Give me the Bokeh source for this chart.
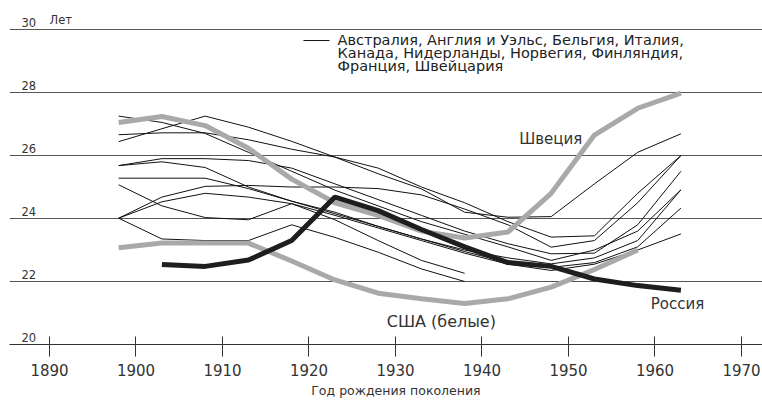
from bokeh.plotting import figure
from bokeh.models import FixedTicker, Range1d
from bokeh.core.properties import value
from bokeh.embed import file_html
from bokeh.resources import INLINE

# ---------------- data ----------------
years = [1898, 1903, 1908, 1913, 1918, 1923, 1928, 1933, 1938, 1943, 1948, 1953, 1958, 1963]

sweden = [27.05, 27.24, 26.95, 26.23, 25.25, 24.5, 24.1, 23.6, 23.38, 23.57, 24.8, 26.65, 27.5, 27.98]
russia_years = years[1:]
russia = [22.54, 22.48, 22.68, 23.3, 24.68, 24.25, 23.65, 23.1, 22.6, 22.48, 22.08, 21.87, 21.72]
usa_years = years[:-1]
usa = [23.07, 23.22, 23.22, 23.22, 22.65, 22.05, 21.63, 21.45, 21.3, 21.45, 21.82, 22.38, 23.0]

# other countries (thin lines)
country_a = [27.25, 27.05, 26.7, 26.1, 25.5, 24.9, 24.4, 23.9, 23.5, 23.1, 22.67, 23.0, 23.6, 24.91]
country_b = [26.44, 26.85, 27.25, 26.9, 26.45, 25.95, 25.42, 24.94, 24.2, 24.04, 24.06, 25.1, 26.1, 26.69]
country_c = [26.66, 26.72, 26.72, 26.5, 26.2, 25.95, 25.6, 25.0, 24.5, 23.9, 23.41, 23.45, 24.8, 26.0]
country_d = [25.68, 25.9, 25.9, 25.84, 25.6, 25.1, 24.6, 24.1, 23.6, 23.2, 22.88, 22.9, 23.8, 25.5]
country_e = [25.68, 25.8, 25.62, 25.0, 24.55, 24.15, 23.75, 23.35, 23.0, 22.75, 22.56, 22.75, 23.3, 24.91]
country_f = [25.28, 25.28, 25.28, 24.95, 24.55, 24.2, 23.75, 23.35, 22.95, 22.6, 22.45, 22.6, 23.1, 24.33]
country_g = [25.07, 24.4, 24.03, 23.96, 24.47, 24.1, 23.7, 23.3, 22.9, 22.55, 22.35, 22.55, 23.0, 23.51]
country_h = [24.01, 24.68, 25.02, 25.05, 25.0, 25.0, 24.95, 24.75, 24.3, 23.8, 23.09, 23.3, 24.5, 26.0]
short_years = years[:9]
country_i = [24.01, 24.53, 24.8, 24.68, 24.47, 23.96, 23.3, 22.67, 22.26]
country_j = [24.01, 23.35, 23.3, 23.3, 23.8, 23.4, 22.93, 22.4, 22.0]

x_ticks = [1890, 1900, 1910, 1920, 1930, 1940, 1950, 1960, 1970]
y_ticks = [20, 22, 24, 26, 28, 30]
y_tick_labels = ["20", "22", "24", "26", "28", "30"]
y_unit = "Лет"
legend_lines = ["Австралия, Англия и Уэльс, Бельгия, Италия,",
                "Канада, Нидерланды, Норвегия, Финляндия,",
                "Франция, Швейцария"]
x_title = "Год рождения поколения"

# ---------------- figure ----------------
X0, X1 = 1885.38, 1972.43
Y0, Y1 = 20.0, 30.667

p = figure(width=762, height=401, output_backend="svg", toolbar_location=None,
           x_range=Range1d(X0, X1), y_range=Range1d(Y0, Y1),
           min_border_left=9, min_border_right=0, min_border_top=8, min_border_bottom=57)
p.outline_line_color = None
p.background_fill_color = "white"
p.border_fill_color = "white"

FONT = "DejaVu Sans"
TXT = "#333333"

p.yaxis.visible = False
p.xgrid.visible = False
p.ygrid.ticker = FixedTicker(ticks=[22, 24, 26, 28, 30])
p.ygrid.grid_line_color = "#555555"
p.ygrid.grid_line_width = 1

ax = p.xaxis[0]
ax.ticker = FixedTicker(ticks=x_ticks)
ax.axis_line_color = "#333333"
ax.major_tick_line_color = "#333333"
ax.major_tick_in = 8
ax.major_tick_out = 12
ax.minor_tick_line_color = None
ax.major_label_text_font = FONT
ax.major_label_text_font_size = "15px"
ax.major_label_text_color = TXT
ax.major_label_standoff = 7
ax.axis_label = "\u00a0" * 5 + x_title
ax.axis_label_text_font = FONT
ax.axis_label_text_font_size = "12.5px"
ax.axis_label_text_font_style = "normal"
ax.axis_label_text_color = TXT
ax.axis_label_standoff = 4

# thin lines
for s, yrs in [(country_a, years), (country_b, years), (country_c, years), (country_d, years),
               (country_e, years), (country_f, years), (country_g, years), (country_h, years),
               (country_i, short_years), (country_j, short_years)]:
    p.line(yrs, s, line_color="#111111", line_width=1)

# thick lines
p.line(years, sweden, line_color="#a9a9a9", line_width=5)
p.line(usa_years, usa, line_color="#a9a9a9", line_width=5)
p.line(russia_years, russia, line_color="#1e1e1e", line_width=5)

# y tick labels
p.text(x=[X0] * len(y_ticks), y=y_ticks, text=y_tick_labels, x_offset=12, y_offset=-3,
       text_baseline="bottom", text_align="left", text_font=value(FONT),
       text_font_size="11.5px", text_color=TXT)
p.text(x=[X0], y=[30], text=[y_unit], x_offset=40, y_offset=-3,
       text_baseline="bottom", text_align="left", text_font=value(FONT),
       text_font_size="11.5px", text_color=TXT)

# legend sample
p.line([1919.36, 1922.37], [29.65, 29.65], line_color="#111111", line_width=1)
p.text(x=[1923.3] * 3, y=[29.67] * 3, text=legend_lines, y_offset=[0, 13, 26],
       text_baseline="middle", text_align="left", text_font=value(FONT),
       text_font_size="14.5px", text_color="#222222")

# series labels
p.text(x=[1951.6], y=[26.51], text=["Швеция"], text_align="right", text_baseline="middle",
       text_font=value(FONT), text_font_size="15px", text_color=TXT)
p.text(x=[1962.6], y=[21.27], text=["Россия"], text_align="center", text_baseline="middle",
       text_font=value(FONT), text_font_size="15px", text_color=TXT)
p.text(x=[1935.3], y=[20.73], text=["США (белые)"], text_align="center", text_baseline="middle",
       text_font=value(FONT), text_font_size="16px", text_color=TXT)

open("out.html", "w").write(file_html(p, INLINE))
